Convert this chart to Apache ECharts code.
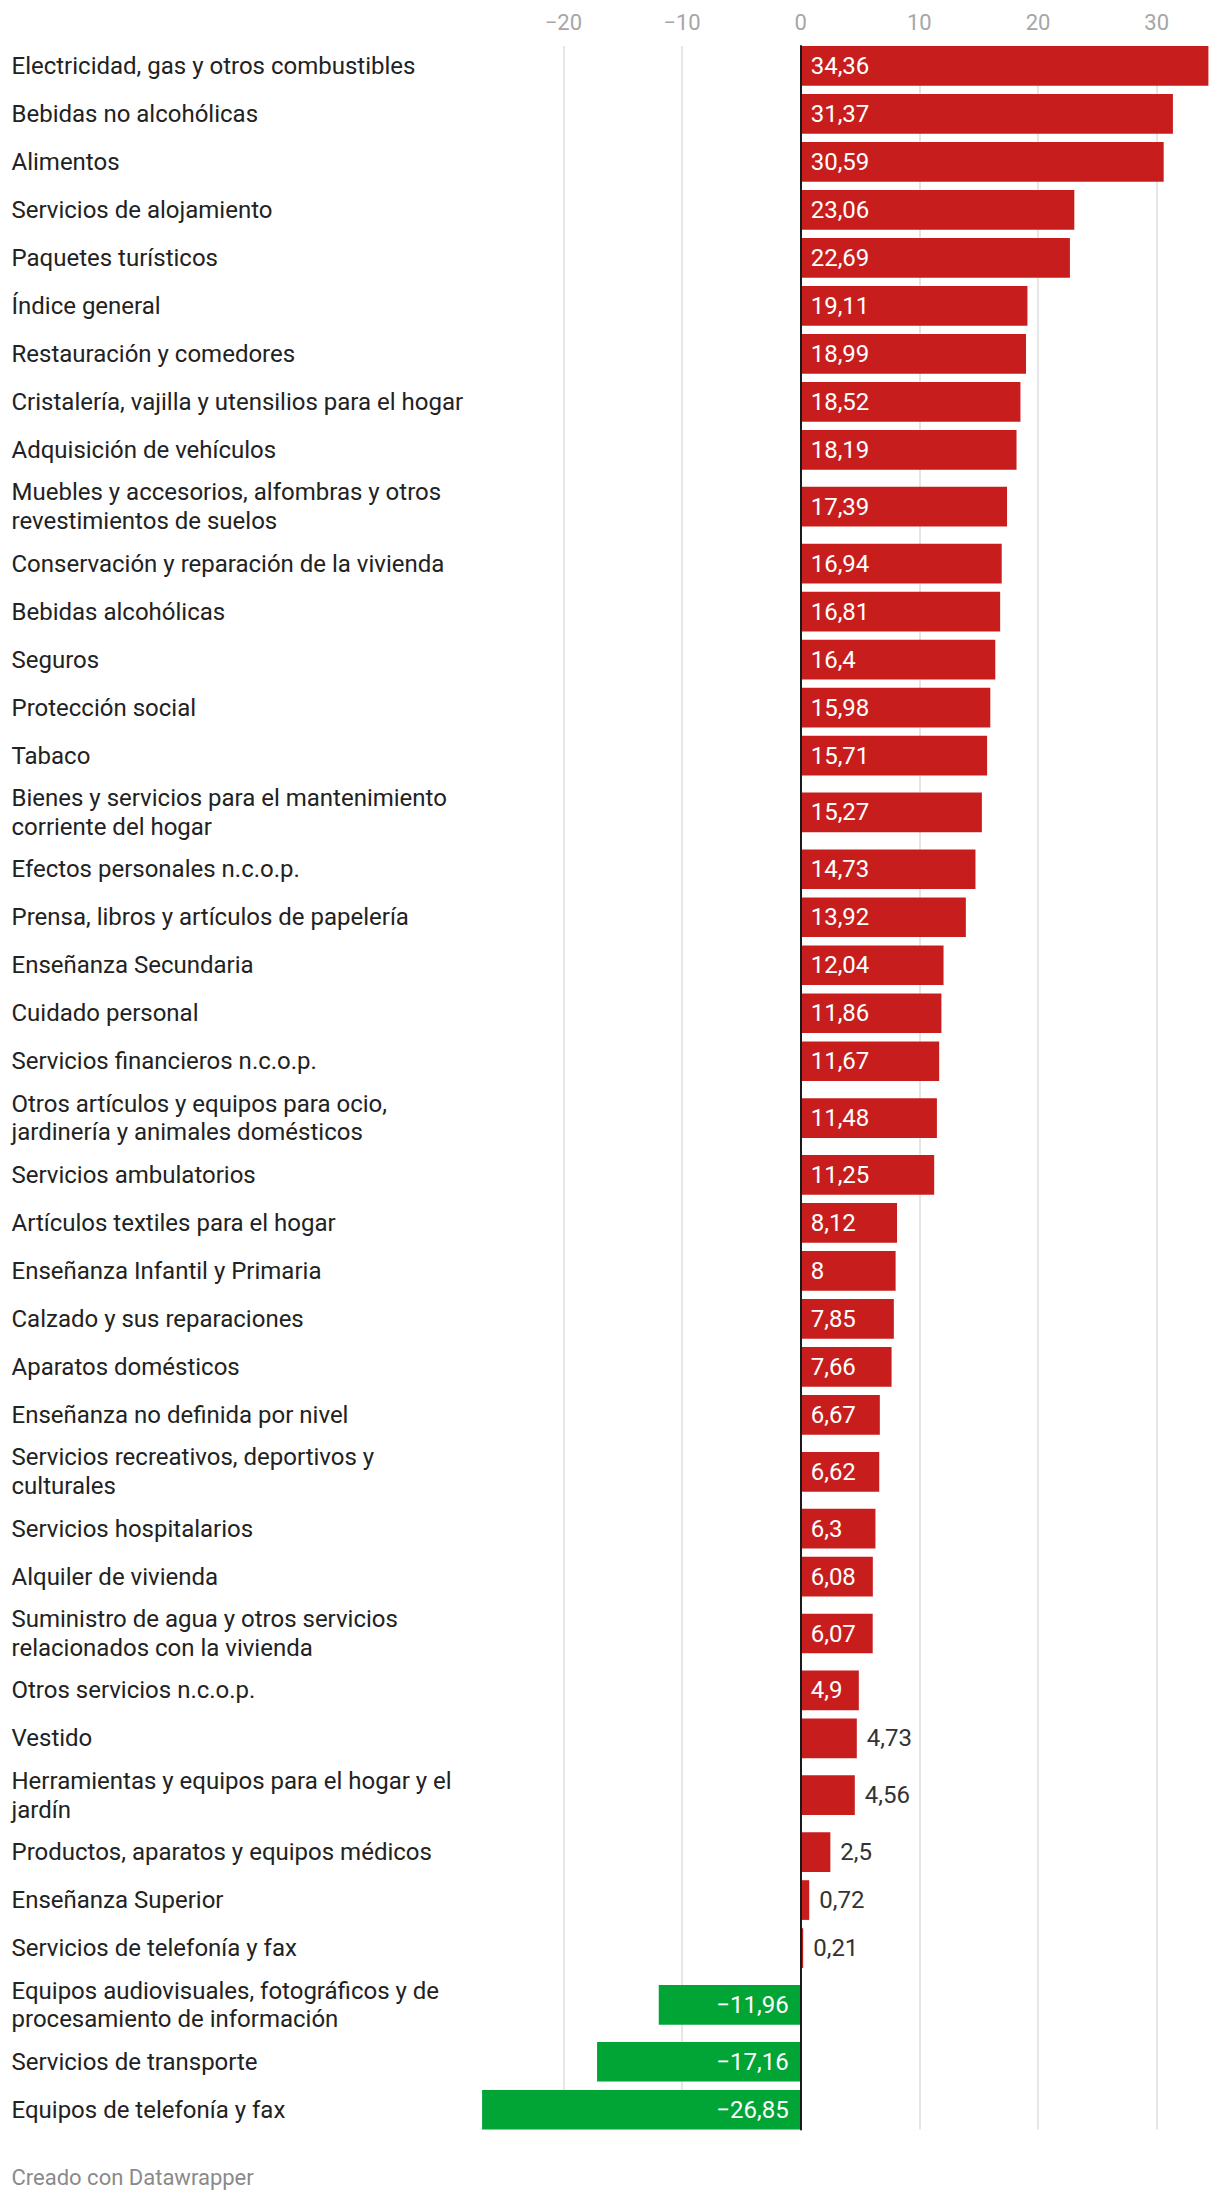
<!DOCTYPE html>
<html>
<head>
<meta charset="utf-8">
<script src="https://cdn.jsdelivr.net/npm/echarts@6/dist/echarts.min.js"></script>
<style>
html,body{margin:0;padding:0;background:#ffffff;}
#chart{width:1220px;height:2206px;}
</style>
</head>
<body>
<div id="chart"></div>
<script>
// ---------- DATA ----------
const categories = [
  'Electricidad, gas y otros combustibles',
  'Bebidas no alcohólicas',
  'Alimentos',
  'Servicios de alojamiento',
  'Paquetes turísticos',
  'Índice general',
  'Restauración y comedores',
  'Cristalería, vajilla y utensilios para el hogar',
  'Adquisición de vehículos',
  'Muebles y accesorios, alfombras y otros\nrevestimientos de suelos',
  'Conservación y reparación de la vivienda',
  'Bebidas alcohólicas',
  'Seguros',
  'Protección social',
  'Tabaco',
  'Bienes y servicios para el mantenimiento\ncorriente del hogar',
  'Efectos personales n.c.o.p.',
  'Prensa, libros y artículos de papelería',
  'Enseñanza Secundaria',
  'Cuidado personal',
  'Servicios financieros n.c.o.p.',
  'Otros artículos y equipos para ocio,\njardinería y animales domésticos',
  'Servicios ambulatorios',
  'Artículos textiles para el hogar',
  'Enseñanza Infantil y Primaria',
  'Calzado y sus reparaciones',
  'Aparatos domésticos',
  'Enseñanza no definida por nivel',
  'Servicios recreativos, deportivos y\nculturales',
  'Servicios hospitalarios',
  'Alquiler de vivienda',
  'Suministro de agua y otros servicios\nrelacionados con la vivienda',
  'Otros servicios n.c.o.p.',
  'Vestido',
  'Herramientas y equipos para el hogar y el\njardín',
  'Productos, aparatos y equipos médicos',
  'Enseñanza Superior',
  'Servicios de telefonía y fax',
  'Equipos audiovisuales, fotográficos y de\nprocesamiento de información',
  'Servicios de transporte',
  'Equipos de telefonía y fax'
];
const values = [
  34.36, 31.37, 30.59, 23.06, 22.69, 19.11, 18.99, 18.52, 18.19, 17.39,
  16.94, 16.81, 16.4, 15.98, 15.71, 15.27, 14.73, 13.92, 12.04, 11.86,
  11.67, 11.48, 11.25, 8.12, 8, 7.85, 7.66, 6.67, 6.62, 6.3,
  6.08, 6.07, 4.9, 4.73, 4.56, 2.5, 0.72, 0.21, -11.96, -17.16,
  -26.85
];
const xTickLabels = [-20, -10, 0, 10, 20, 30];
const footerText = 'Creado con Datawrapper';

// ---------- STYLE / LAYOUT ----------
const W = 1220, H = 2206;
const FONT = 'Roboto';
const FS = 24;
const TICK_FS = 22;
const GRID_TOP = 46;
const BAR_H = 39.7;
const LINE_H = 28.7;
const GAP = 8.3;
const RED = '#c71e1d';
const GREEN = '#00a536';
const LABEL_X = 11.5;

// row heights follow the number of label lines (as in the original layout)
const lineCounts = categories.map(c => c.split('\n').length);
const rowH = lineCounts.map(n => Math.max(BAR_H, n * LINE_H) + GAP);
let acc = 0;
const centers = rowH.map(h => { const c = acc + h / 2; acc += h; return c; });
const total = acc;

const fmt = v => String(v).replace('.', ',').replace('-', '\u2212');

const mctx = document.createElement('canvas').getContext('2d');
mctx.font = FS + 'px ' + FONT;
const textW = t => mctx.measureText(t).width;

const seriesData = values.map((v, i) => [v, centers[i], i]);

const chart = echarts.init(document.getElementById('chart'), null, {renderer: 'svg', width: W, height: H});

chart.setOption({
  animation: false,
  backgroundColor: '#ffffff',
  textStyle: {fontFamily: FONT},
  grid: {
    left: 444.7,
    right: 4,
    top: GRID_TOP,
    bottom: H - GRID_TOP - (total - GAP),
    containLabel: false
  },
  xAxis: {
    type: 'value',
    position: 'top',
    min: -30,
    max: 35,
    interval: 10,
    axisLine: {show: false},
    axisTick: {show: false},
    splitLine: {show: true, showMinLine: false, showMaxLine: false, lineStyle: {color: '#e6e6e6', width: 2}},
    axisLabel: {
      show: true,
      margin: 24,
      verticalAlign: 'middle',
      color: '#a6a6a6',
      fontSize: TICK_FS,
      fontFamily: FONT,
      formatter: v => xTickLabels.indexOf(v) >= 0 ? fmt(v) : ''
    }
  },
  yAxis: {
    type: 'value',
    inverse: true,
    min: GAP / 2,
    max: total - GAP / 2,
    z: 10,
    axisLine: {show: true, onZero: true, lineStyle: {color: '#1a1a1a', width: 2}},
    axisTick: {show: false},
    axisLabel: {show: false},
    splitLine: {show: false}
  },
  series: [{
    type: 'custom',
    clip: false,
    data: seriesData,
    encode: {x: 0, y: 1},
    renderItem: function (params, api) {
      const v = api.value(0);
      const yc = api.value(1);
      const idx = api.value(2);
      const p0 = api.coord([0, yc]);
      const p1 = api.coord([v, yc]);
      const bh = api.size([0, BAR_H])[1];
      const x = Math.min(p0[0], p1[0]);
      const w = Math.abs(p1[0] - p0[0]);
      const txt = fmt(v);
      const tw = textW(txt);
      const inside = w >= tw + 20;
      let lx, align, fill;
      if (v >= 0) {
        if (inside) { lx = p0[0] + 10; align = 'left'; fill = '#ffffff'; }
        else { lx = p1[0] + 10; align = 'left'; fill = '#333333'; }
      } else {
        if (inside) { lx = p0[0] - 12; align = 'right'; fill = '#ffffff'; }
        else { lx = p1[0] - 10; align = 'right'; fill = '#333333'; }
      }
      return {
        type: 'group',
        children: [
          {
            type: 'rect',
            shape: {x: x, y: p0[1] - bh / 2, width: w, height: bh},
            style: {fill: v >= 0 ? RED : GREEN}
          },
          {
            type: 'text',
            style: {
              text: txt, x: lx, y: p0[1], fill: fill,
              fontSize: FS, fontFamily: FONT,
              align: align, verticalAlign: 'middle'
            }
          },
          {
            type: 'text',
            style: {
              text: categories[idx], x: LABEL_X, y: p0[1], fill: '#222222',
              fontSize: FS, fontFamily: FONT, lineHeight: LINE_H,
              align: 'left', verticalAlign: 'middle'
            }
          }
        ]
      };
    }
  }],
  graphic: [{
    type: 'text',
    left: LABEL_X,
    top: 2166,
    style: {text: footerText, fill: '#8a8a8a', fontSize: 22, fontFamily: FONT}
  }]
});
</script>
</body>
</html>
